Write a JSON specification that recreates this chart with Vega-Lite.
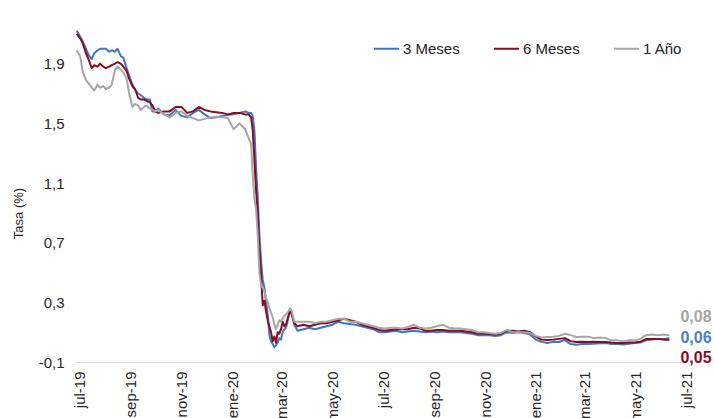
{
  "$schema": "https://vega.github.io/schema/vega-lite/v6.json",
  "width": 610,
  "height": 358,
  "autosize": {"type": "none"},
  "padding": {"left": 76, "top": 4, "right": 28, "bottom": 56},
  "background": "white",
  "config": {
    "view": {"stroke": null},
    "font": "Liberation Sans"
  },
  "datasets": {
    "series": [
      {"fecha": "2019-06-28", "3 Meses": 2.12, "6 Meses": 2.10, "1 Año": 1.99},
      {"fecha": "2019-07-02", "3 Meses": 2.08, "6 Meses": 2.07, "1 Año": 1.95},
      {"fecha": "2019-07-05", "3 Meses": 2.05, "6 Meses": 2.04, "1 Año": 1.85},
      {"fecha": "2019-07-09", "3 Meses": 2.00, "6 Meses": 1.97, "1 Año": 1.79},
      {"fecha": "2019-07-12", "3 Meses": 1.96, "6 Meses": 1.93, "1 Año": 1.77},
      {"fecha": "2019-07-16", "3 Meses": 1.93, "6 Meses": 1.87, "1 Año": 1.74},
      {"fecha": "2019-07-19", "3 Meses": 1.97, "6 Meses": 1.89, "1 Año": 1.72},
      {"fecha": "2019-07-23", "3 Meses": 1.99, "6 Meses": 1.88, "1 Año": 1.76},
      {"fecha": "2019-07-26", "3 Meses": 2.00, "6 Meses": 1.90, "1 Año": 1.74},
      {"fecha": "2019-07-30", "3 Meses": 2.00, "6 Meses": 1.88, "1 Año": 1.75},
      {"fecha": "2019-08-02", "3 Meses": 2.00, "6 Meses": 1.87, "1 Año": 1.73},
      {"fecha": "2019-08-06", "3 Meses": 1.98, "6 Meses": 1.88, "1 Año": 1.74},
      {"fecha": "2019-08-09", "3 Meses": 1.99, "6 Meses": 1.89, "1 Año": 1.76},
      {"fecha": "2019-08-13", "3 Meses": 1.98, "6 Meses": 1.90, "1 Año": 1.86},
      {"fecha": "2019-08-16", "3 Meses": 2.00, "6 Meses": 1.91, "1 Año": 1.88},
      {"fecha": "2019-08-20", "3 Meses": 1.95, "6 Meses": 1.90, "1 Año": 1.86},
      {"fecha": "2019-08-23", "3 Meses": 1.94, "6 Meses": 1.88, "1 Año": 1.84},
      {"fecha": "2019-08-27", "3 Meses": 1.87, "6 Meses": 1.85, "1 Año": 1.80},
      {"fecha": "2019-08-30", "3 Meses": 1.82, "6 Meses": 1.80, "1 Año": 1.70},
      {"fecha": "2019-09-03", "3 Meses": 1.76, "6 Meses": 1.75, "1 Año": 1.61},
      {"fecha": "2019-09-06", "3 Meses": 1.73, "6 Meses": 1.73, "1 Año": 1.63},
      {"fecha": "2019-09-10", "3 Meses": 1.70, "6 Meses": 1.67, "1 Año": 1.62},
      {"fecha": "2019-09-13", "3 Meses": 1.69, "6 Meses": 1.66, "1 Año": 1.59},
      {"fecha": "2019-09-17", "3 Meses": 1.67, "6 Meses": 1.66, "1 Año": 1.61},
      {"fecha": "2019-09-20", "3 Meses": 1.66, "6 Meses": 1.65, "1 Año": 1.62},
      {"fecha": "2019-09-24", "3 Meses": 1.66, "6 Meses": 1.64, "1 Año": 1.60},
      {"fecha": "2019-09-27", "3 Meses": 1.58, "6 Meses": 1.62, "1 Año": 1.59},
      {"fecha": "2019-10-01", "3 Meses": 1.58, "6 Meses": 1.58, "1 Año": 1.58},
      {"fecha": "2019-10-04", "3 Meses": 1.60, "6 Meses": 1.57, "1 Año": 1.59},
      {"fecha": "2019-10-11", "3 Meses": 1.56, "6 Meses": 1.58, "1 Año": 1.56},
      {"fecha": "2019-10-18", "3 Meses": 1.555, "6 Meses": 1.58, "1 Año": 1.54},
      {"fecha": "2019-10-25", "3 Meses": 1.59, "6 Meses": 1.61, "1 Año": 1.57},
      {"fecha": "2019-11-01", "3 Meses": 1.55, "6 Meses": 1.61, "1 Año": 1.58},
      {"fecha": "2019-11-08", "3 Meses": 1.54, "6 Meses": 1.57, "1 Año": 1.55},
      {"fecha": "2019-11-15", "3 Meses": 1.57, "6 Meses": 1.58, "1 Año": 1.535},
      {"fecha": "2019-11-22", "3 Meses": 1.59, "6 Meses": 1.61, "1 Año": 1.52},
      {"fecha": "2019-11-29", "3 Meses": 1.56, "6 Meses": 1.59, "1 Año": 1.53},
      {"fecha": "2019-12-06", "3 Meses": 1.535, "6 Meses": 1.58, "1 Año": 1.54},
      {"fecha": "2019-12-13", "3 Meses": 1.54, "6 Meses": 1.575, "1 Año": 1.545},
      {"fecha": "2019-12-20", "3 Meses": 1.55, "6 Meses": 1.57, "1 Año": 1.54},
      {"fecha": "2019-12-27", "3 Meses": 1.555, "6 Meses": 1.56, "1 Año": 1.535},
      {"fecha": "2020-01-03", "3 Meses": 1.56, "6 Meses": 1.57, "1 Año": 1.46},
      {"fecha": "2020-01-10", "3 Meses": 1.57, "6 Meses": 1.57, "1 Año": 1.50},
      {"fecha": "2020-01-17", "3 Meses": 1.58, "6 Meses": 1.56, "1 Año": 1.46},
      {"fecha": "2020-01-21", "3 Meses": 1.57, "6 Meses": 1.56, "1 Año": 1.40},
      {"fecha": "2020-01-24", "3 Meses": 1.57, "6 Meses": 1.54, "1 Año": 1.36},
      {"fecha": "2020-01-26", "3 Meses": 1.55, "6 Meses": 1.45, "1 Año": 1.15},
      {"fecha": "2020-01-28", "3 Meses": 1.45, "6 Meses": 1.25, "1 Año": 1.00},
      {"fecha": "2020-01-30", "3 Meses": 1.20, "6 Meses": 1.05, "1 Año": 0.92},
      {"fecha": "2020-02-01", "3 Meses": 1.00, "6 Meses": 0.90, "1 Año": 0.75},
      {"fecha": "2020-02-03", "3 Meses": 0.75, "6 Meses": 0.65, "1 Año": 0.50},
      {"fecha": "2020-02-05", "3 Meses": 0.58, "6 Meses": 0.48, "1 Año": 0.41},
      {"fecha": "2020-02-07", "3 Meses": 0.45, "6 Meses": 0.28, "1 Año": 0.40},
      {"fecha": "2020-02-09", "3 Meses": 0.40, "6 Meses": 0.31, "1 Año": 0.37},
      {"fecha": "2020-02-11", "3 Meses": 0.30, "6 Meses": 0.24, "1 Año": 0.33},
      {"fecha": "2020-02-13", "3 Meses": 0.22, "6 Meses": 0.18, "1 Año": 0.30},
      {"fecha": "2020-02-15", "3 Meses": 0.08, "6 Meses": 0.14, "1 Año": 0.26},
      {"fecha": "2020-02-17", "3 Meses": 0.04, "6 Meses": 0.10, "1 Año": 0.23},
      {"fecha": "2020-02-19", "3 Meses": 0.02, "6 Meses": 0.04, "1 Año": 0.20},
      {"fecha": "2020-02-21", "3 Meses": 0.00, "6 Meses": 0.07, "1 Año": 0.15},
      {"fecha": "2020-02-23", "3 Meses": 0.01, "6 Meses": 0.03, "1 Año": 0.12},
      {"fecha": "2020-02-25", "3 Meses": 0.03, "6 Meses": 0.10, "1 Año": 0.15},
      {"fecha": "2020-02-27", "3 Meses": 0.06, "6 Meses": 0.09, "1 Año": 0.18},
      {"fecha": "2020-02-29", "3 Meses": 0.05, "6 Meses": 0.12, "1 Año": 0.17},
      {"fecha": "2020-03-02", "3 Meses": 0.10, "6 Meses": 0.17, "1 Año": 0.19},
      {"fecha": "2020-03-04", "3 Meses": 0.12, "6 Meses": 0.14, "1 Año": 0.21},
      {"fecha": "2020-03-06", "3 Meses": 0.13, "6 Meses": 0.15, "1 Año": 0.22},
      {"fecha": "2020-03-09", "3 Meses": 0.20, "6 Meses": 0.21, "1 Año": 0.24},
      {"fecha": "2020-03-11", "3 Meses": 0.25, "6 Meses": 0.25, "1 Año": 0.26},
      {"fecha": "2020-03-13", "3 Meses": 0.22, "6 Meses": 0.22, "1 Año": 0.24},
      {"fecha": "2020-03-16", "3 Meses": 0.15, "6 Meses": 0.16, "1 Año": 0.17},
      {"fecha": "2020-03-20", "3 Meses": 0.11, "6 Meses": 0.14, "1 Año": 0.17},
      {"fecha": "2020-03-27", "3 Meses": 0.12, "6 Meses": 0.15, "1 Año": 0.17},
      {"fecha": "2020-04-03", "3 Meses": 0.13, "6 Meses": 0.14, "1 Año": 0.17},
      {"fecha": "2020-04-10", "3 Meses": 0.12, "6 Meses": 0.15, "1 Año": 0.16},
      {"fecha": "2020-04-17", "3 Meses": 0.13, "6 Meses": 0.16, "1 Año": 0.17},
      {"fecha": "2020-04-24", "3 Meses": 0.14, "6 Meses": 0.16, "1 Año": 0.17},
      {"fecha": "2020-05-01", "3 Meses": 0.15, "6 Meses": 0.17, "1 Año": 0.18},
      {"fecha": "2020-05-08", "3 Meses": 0.17, "6 Meses": 0.18, "1 Año": 0.19},
      {"fecha": "2020-05-15", "3 Meses": 0.16, "6 Meses": 0.19, "1 Año": 0.19},
      {"fecha": "2020-05-22", "3 Meses": 0.155, "6 Meses": 0.18, "1 Año": 0.17},
      {"fecha": "2020-05-29", "3 Meses": 0.15, "6 Meses": 0.17, "1 Año": 0.17},
      {"fecha": "2020-06-05", "3 Meses": 0.14, "6 Meses": 0.15, "1 Año": 0.16},
      {"fecha": "2020-06-12", "3 Meses": 0.13, "6 Meses": 0.14, "1 Año": 0.15},
      {"fecha": "2020-06-19", "3 Meses": 0.12, "6 Meses": 0.13, "1 Año": 0.14},
      {"fecha": "2020-06-26", "3 Meses": 0.10, "6 Meses": 0.115, "1 Año": 0.13},
      {"fecha": "2020-07-03", "3 Meses": 0.10, "6 Meses": 0.11, "1 Año": 0.125},
      {"fecha": "2020-07-10", "3 Meses": 0.105, "6 Meses": 0.115, "1 Año": 0.13},
      {"fecha": "2020-07-17", "3 Meses": 0.11, "6 Meses": 0.12, "1 Año": 0.13},
      {"fecha": "2020-07-24", "3 Meses": 0.10, "6 Meses": 0.12, "1 Año": 0.125},
      {"fecha": "2020-07-31", "3 Meses": 0.105, "6 Meses": 0.12, "1 Año": 0.135},
      {"fecha": "2020-08-07", "3 Meses": 0.11, "6 Meses": 0.13, "1 Año": 0.15},
      {"fecha": "2020-08-14", "3 Meses": 0.105, "6 Meses": 0.125, "1 Año": 0.13},
      {"fecha": "2020-08-21", "3 Meses": 0.10, "6 Meses": 0.11, "1 Año": 0.125},
      {"fecha": "2020-08-28", "3 Meses": 0.105, "6 Meses": 0.11, "1 Año": 0.13},
      {"fecha": "2020-09-04", "3 Meses": 0.10, "6 Meses": 0.115, "1 Año": 0.14},
      {"fecha": "2020-09-11", "3 Meses": 0.105, "6 Meses": 0.115, "1 Año": 0.15},
      {"fecha": "2020-09-18", "3 Meses": 0.10, "6 Meses": 0.11, "1 Año": 0.13},
      {"fecha": "2020-09-25", "3 Meses": 0.10, "6 Meses": 0.11, "1 Año": 0.125},
      {"fecha": "2020-10-02", "3 Meses": 0.10, "6 Meses": 0.11, "1 Año": 0.125},
      {"fecha": "2020-10-09", "3 Meses": 0.095, "6 Meses": 0.105, "1 Año": 0.12},
      {"fecha": "2020-10-16", "3 Meses": 0.09, "6 Meses": 0.10, "1 Año": 0.115},
      {"fecha": "2020-10-23", "3 Meses": 0.08, "6 Meses": 0.09, "1 Año": 0.10},
      {"fecha": "2020-10-30", "3 Meses": 0.08, "6 Meses": 0.09, "1 Año": 0.10},
      {"fecha": "2020-11-06", "3 Meses": 0.08, "6 Meses": 0.088, "1 Año": 0.094},
      {"fecha": "2020-11-13", "3 Meses": 0.075, "6 Meses": 0.085, "1 Año": 0.09},
      {"fecha": "2020-11-20", "3 Meses": 0.08, "6 Meses": 0.09, "1 Año": 0.095},
      {"fecha": "2020-11-27", "3 Meses": 0.10, "6 Meses": 0.11, "1 Año": 0.115},
      {"fecha": "2020-12-04", "3 Meses": 0.095, "6 Meses": 0.11, "1 Año": 0.10},
      {"fecha": "2020-12-11", "3 Meses": 0.10, "6 Meses": 0.105, "1 Año": 0.10},
      {"fecha": "2020-12-18", "3 Meses": 0.095, "6 Meses": 0.11, "1 Año": 0.10},
      {"fecha": "2020-12-25", "3 Meses": 0.085, "6 Meses": 0.10, "1 Año": 0.094},
      {"fecha": "2021-01-01", "3 Meses": 0.05, "6 Meses": 0.07, "1 Año": 0.075},
      {"fecha": "2021-01-08", "3 Meses": 0.035, "6 Meses": 0.05, "1 Año": 0.065},
      {"fecha": "2021-01-15", "3 Meses": 0.027, "6 Meses": 0.047, "1 Año": 0.068},
      {"fecha": "2021-01-22", "3 Meses": 0.035, "6 Meses": 0.05, "1 Año": 0.07},
      {"fecha": "2021-01-29", "3 Meses": 0.034, "6 Meses": 0.055, "1 Año": 0.075},
      {"fecha": "2021-02-05", "3 Meses": 0.047, "6 Meses": 0.06, "1 Año": 0.09},
      {"fecha": "2021-02-12", "3 Meses": 0.02, "6 Meses": 0.04, "1 Año": 0.08},
      {"fecha": "2021-02-19", "3 Meses": 0.015, "6 Meses": 0.034, "1 Año": 0.068},
      {"fecha": "2021-02-26", "3 Meses": 0.02, "6 Meses": 0.035, "1 Año": 0.07},
      {"fecha": "2021-03-05", "3 Meses": 0.02, "6 Meses": 0.034, "1 Año": 0.07},
      {"fecha": "2021-03-12", "3 Meses": 0.022, "6 Meses": 0.035, "1 Año": 0.06},
      {"fecha": "2021-03-19", "3 Meses": 0.025, "6 Meses": 0.034, "1 Año": 0.065},
      {"fecha": "2021-03-26", "3 Meses": 0.027, "6 Meses": 0.034, "1 Año": 0.06},
      {"fecha": "2021-04-02", "3 Meses": 0.02, "6 Meses": 0.03, "1 Año": 0.045},
      {"fecha": "2021-04-09", "3 Meses": 0.02, "6 Meses": 0.028, "1 Año": 0.045},
      {"fecha": "2021-04-16", "3 Meses": 0.018, "6 Meses": 0.027, "1 Año": 0.04},
      {"fecha": "2021-04-23", "3 Meses": 0.022, "6 Meses": 0.03, "1 Año": 0.045},
      {"fecha": "2021-04-30", "3 Meses": 0.027, "6 Meses": 0.03, "1 Año": 0.045},
      {"fecha": "2021-05-07", "3 Meses": 0.03, "6 Meses": 0.035, "1 Año": 0.055},
      {"fecha": "2021-05-14", "3 Meses": 0.045, "6 Meses": 0.055, "1 Año": 0.08},
      {"fecha": "2021-05-21", "3 Meses": 0.05, "6 Meses": 0.055, "1 Año": 0.085},
      {"fecha": "2021-05-28", "3 Meses": 0.055, "6 Meses": 0.055, "1 Año": 0.08},
      {"fecha": "2021-06-04", "3 Meses": 0.055, "6 Meses": 0.05, "1 Año": 0.085},
      {"fecha": "2021-06-11", "3 Meses": 0.06, "6 Meses": 0.05, "1 Año": 0.08}
    ],
    "etiquetas": [
      {"fecha": "2021-06-11", "serie": "1 Año", "tasa": 0.08, "texto": "0,08"},
      {"fecha": "2021-06-11", "serie": "3 Meses", "tasa": 0.06, "texto": "0,06"},
      {"fecha": "2021-06-11", "serie": "6 Meses", "tasa": 0.05, "texto": "0,05"}
    ]
  },
  "encoding": {
    "x": {
      "field": "fecha",
      "type": "temporal",
      "scale": {
        "type": "utc",
        "domain": [
          {"year": 2019, "month": 6, "date": 27, "utc": true},
          {"year": 2021, "month": 7, "date": 1, "utc": true}
        ]
      },
      "axis": {
        "title": null,
        "grid": false,
        "ticks": false,
        "tickSize": 0,
        "domainColor": "#D9D9D9",
        "domainWidth": 1,
        "labelAngle": -90,
        "labelAlign": "right",
        "labelBaseline": "middle",
        "labelPadding": 9,
        "labelFontSize": 15,
        "labelFont": "Liberation Sans",
        "labelColor": "#262626",
        "labelOverlap": false,
        "values": [
          {"year": 2019, "month": 7, "date": 1, "utc": true},
          {"year": 2019, "month": 9, "date": 1, "utc": true},
          {"year": 2019, "month": 11, "date": 1, "utc": true},
          {"year": 2020, "month": 1, "date": 1, "utc": true},
          {"year": 2020, "month": 3, "date": 1, "utc": true},
          {"year": 2020, "month": 5, "date": 1, "utc": true},
          {"year": 2020, "month": 7, "date": 1, "utc": true},
          {"year": 2020, "month": 9, "date": 1, "utc": true},
          {"year": 2020, "month": 11, "date": 1, "utc": true},
          {"year": 2021, "month": 1, "date": 1, "utc": true},
          {"year": 2021, "month": 3, "date": 1, "utc": true},
          {"year": 2021, "month": 5, "date": 1, "utc": true},
          {"year": 2021, "month": 7, "date": 1, "utc": true}
        ],
        "labelExpr": "['ene','feb','mar','abr','may','jun','jul','ago','sep','oct','nov','dic'][utcmonth(datum.value)] + '-' + utcFormat(datum.value, '%y')"
      }
    },
    "y": {
      "field": "tasa",
      "type": "quantitative",
      "scale": {"domain": [-0.1, 2.3], "nice": false, "zero": false},
      "axis": {
        "title": "Tasa (%)",
        "titleFont": "Liberation Sans",
        "titleFontSize": 13,
        "titleFontWeight": "normal",
        "titleColor": "#262626",
        "titleAngle": -90,
        "titleAlign": "center",
        "titleBaseline": "middle",
        "titleX": -58,
        "titleY": 209,
        "grid": false,
        "domain": false,
        "ticks": false,
        "tickSize": 0,
        "labelPadding": 12,
        "labelFontSize": 15,
        "labelFont": "Liberation Sans",
        "labelColor": "#262626",
        "values": [-0.1, 0.3, 0.7, 1.1, 1.5, 1.9],
        "labelExpr": "(datum.value < 0 ? '-' : '') + replace(format(abs(datum.value), '.1f'), '.', ',')"
      }
    }
  },
  "layer": [
    {
      "data": {"name": "series"},
      "transform": [
        {"fold": ["3 Meses", "6 Meses", "1 Año"], "as": ["serie", "tasa"]}
      ],
      "mark": {"type": "line", "strokeWidth": 2, "strokeJoin": "round"},
      "encoding": {
        "color": {
          "field": "serie",
          "type": "nominal",
          "scale": {
            "domain": ["3 Meses", "6 Meses", "1 Año"],
            "range": ["#3A78C0", "#8B0A1E", "#A6A6A6"]
          },
          "legend": {
            "orient": "none",
            "legendX": 297,
            "legendY": 31,
            "direction": "horizontal",
            "title": null,
            "symbolType": "stroke",
            "symbolStrokeWidth": 2,
            "symbolSize": 625,
            "labelFontSize": 15,
            "labelFont": "Liberation Sans",
            "labelColor": "#222222",
            "labelOffset": 3,
            "columnPadding": 30
          }
        }
      }
    },
    {
      "data": {"name": "etiquetas"},
      "transform": [{"filter": {"field": "serie", "equal": "1 Año"}}],
      "mark": {"type": "text", "align": "left", "baseline": "middle", "dx": 11, "dy": -18, "fontSize": 16, "fontWeight": "bold", "font": "Liberation Sans", "color": "#A6A6A6"},
      "encoding": {"text": {"field": "texto", "type": "nominal"}}
    },
    {
      "data": {"name": "etiquetas"},
      "transform": [{"filter": {"field": "serie", "equal": "3 Meses"}}],
      "mark": {"type": "text", "align": "left", "baseline": "middle", "dx": 11, "dy": 0, "fontSize": 16, "fontWeight": "bold", "font": "Liberation Sans", "color": "#4A7EC9"},
      "encoding": {"text": {"field": "texto", "type": "nominal"}}
    },
    {
      "data": {"name": "etiquetas"},
      "transform": [{"filter": {"field": "serie", "equal": "6 Meses"}}],
      "mark": {"type": "text", "align": "left", "baseline": "middle", "dx": 11, "dy": 18, "fontSize": 16, "fontWeight": "bold", "font": "Liberation Sans", "color": "#8B0A1E"},
      "encoding": {"text": {"field": "texto", "type": "nominal"}}
    }
  ]
}
